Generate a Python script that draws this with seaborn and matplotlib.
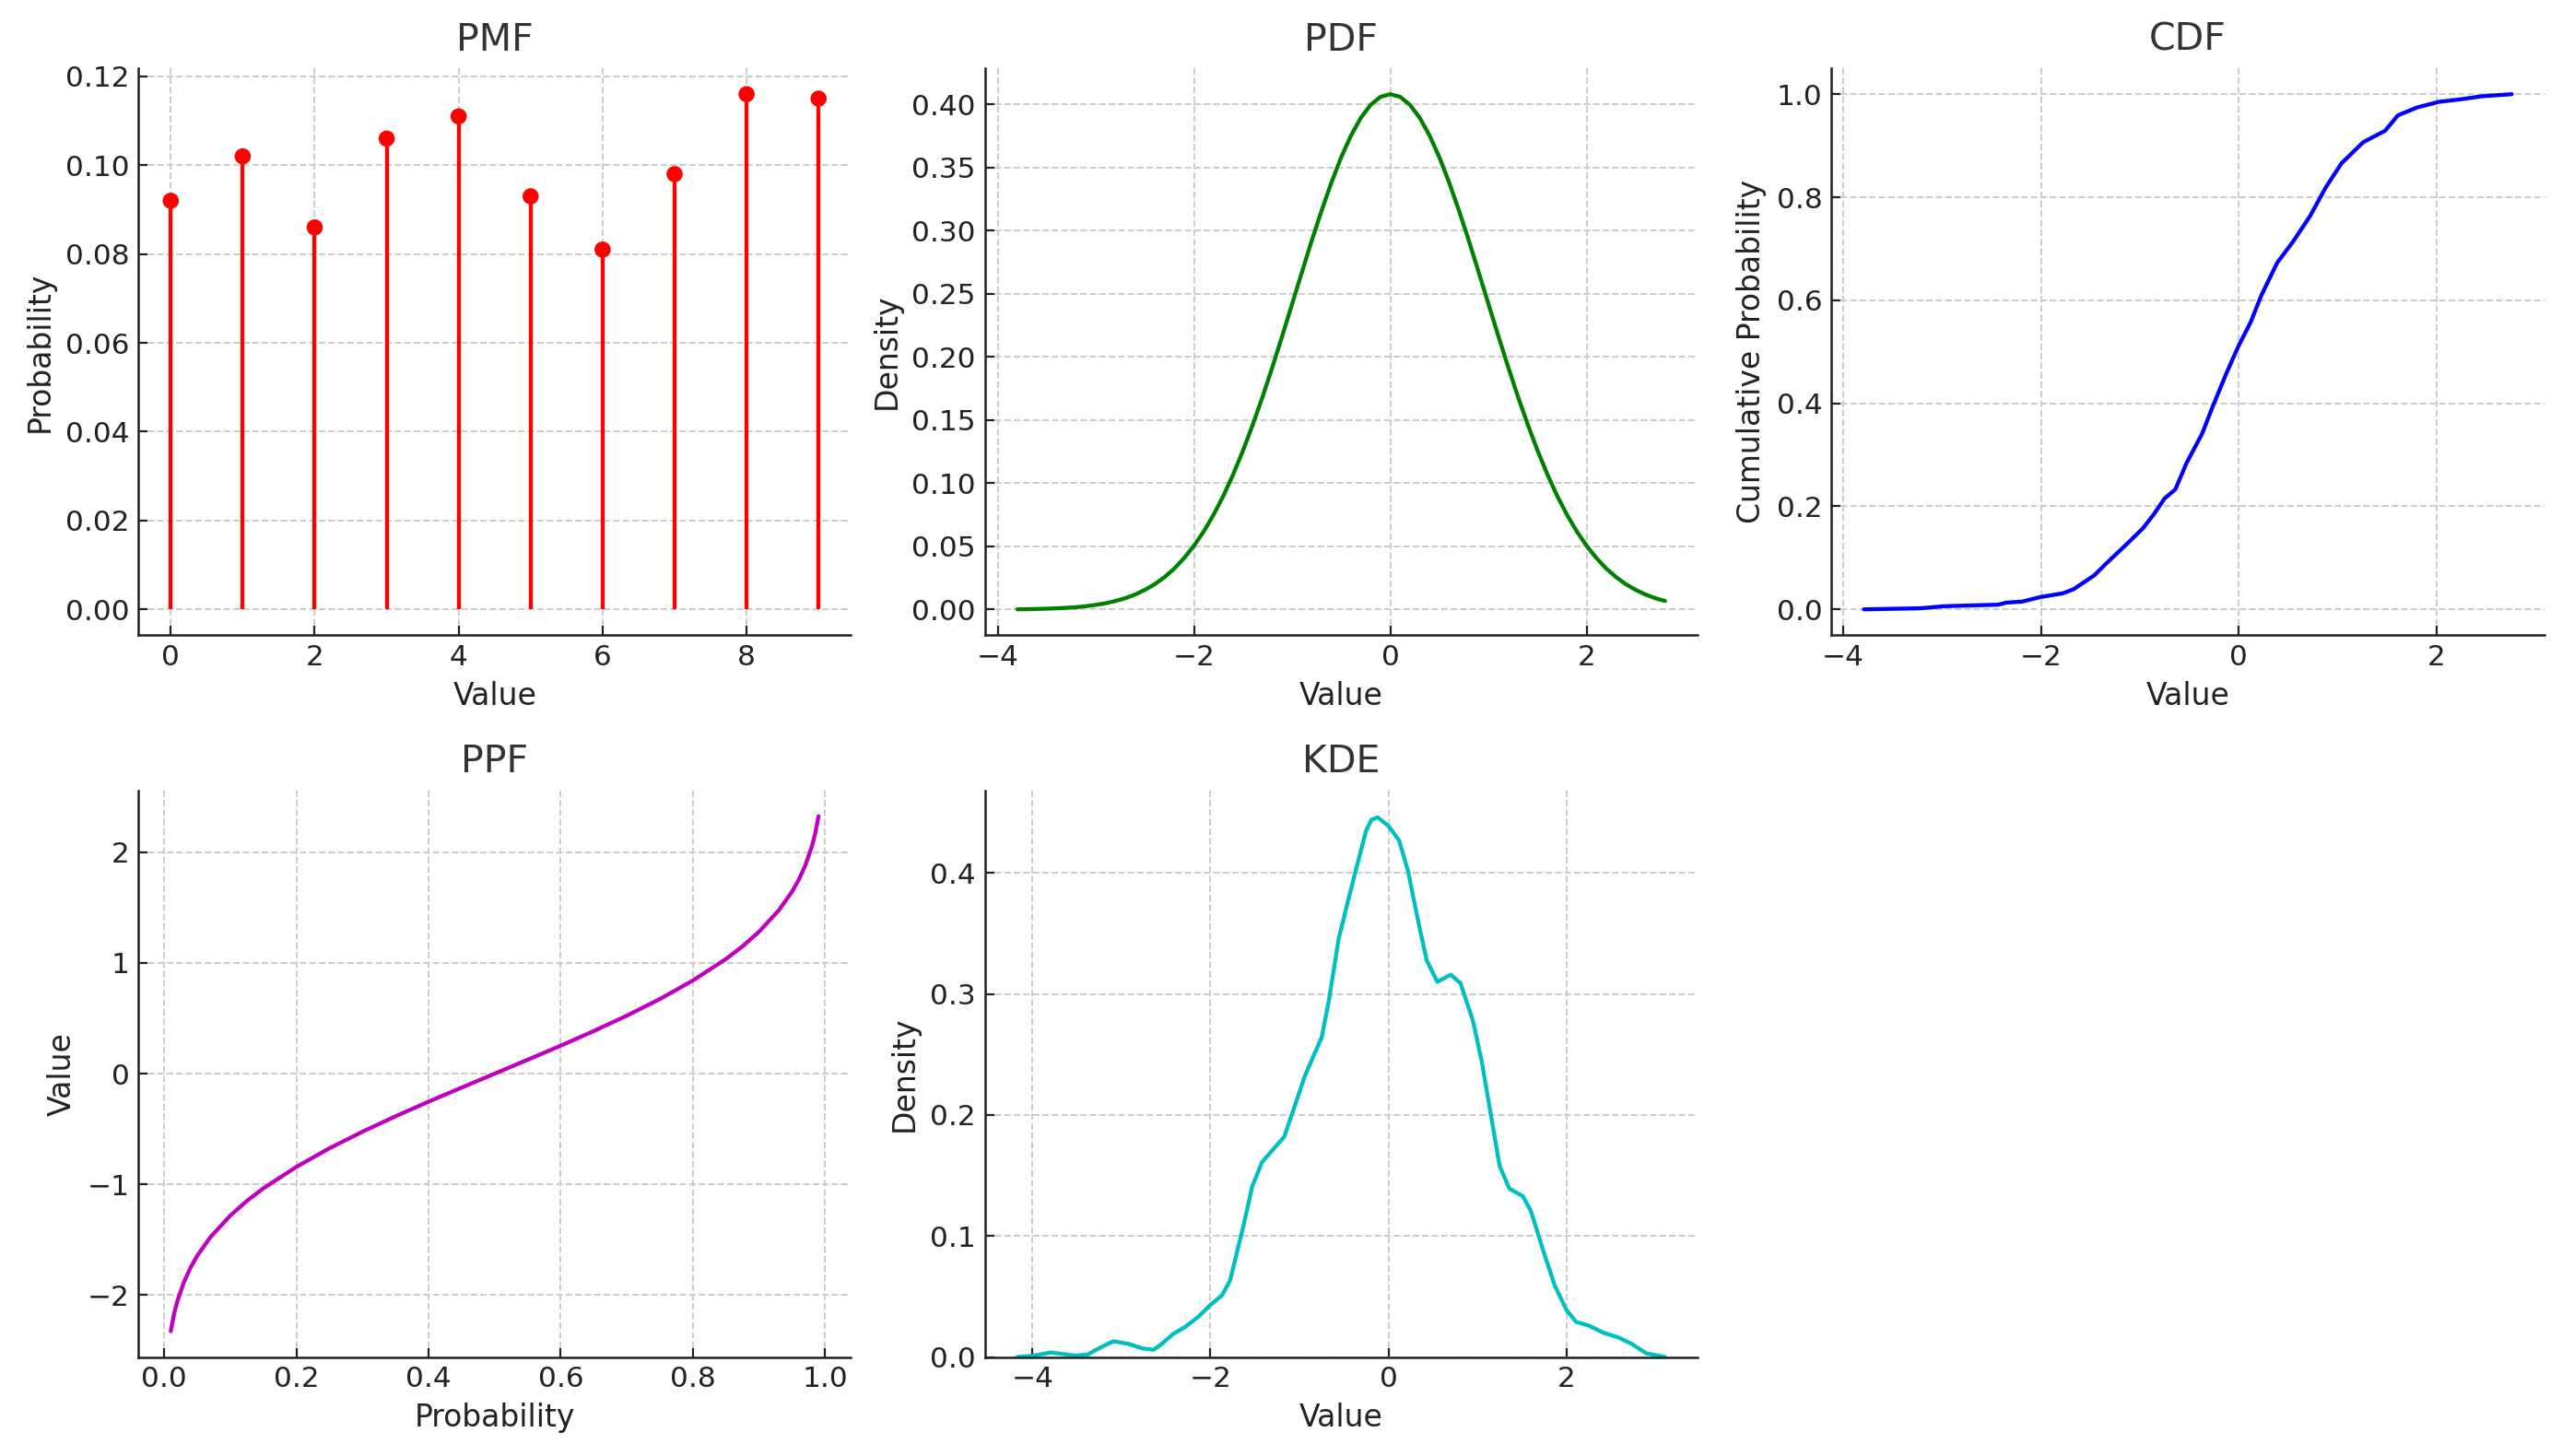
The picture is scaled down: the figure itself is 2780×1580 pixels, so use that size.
import numpy as np
import pandas as pd
import matplotlib
matplotlib.use("Agg")
import matplotlib.pyplot as plt
from matplotlib.ticker import MultipleLocator
import seaborn as sns

# ---------------- data ----------------
pmf_values = [0, 1, 2, 3, 4, 5, 6, 7, 8, 9]
pmf_probs = [0.092, 0.102, 0.086, 0.106, 0.111, 0.093, 0.081, 0.098, 0.116, 0.115]

pdf_x = [-3.8, -3.7, -3.6, -3.5, -3.4, -3.3, -3.2, -3.1, -3.0, -2.9, -2.8, -2.7, -2.6,
         -2.5, -2.4, -2.3, -2.2, -2.1, -2.0, -1.9, -1.8, -1.7, -1.6, -1.5, -1.4, -1.3,
         -1.2, -1.1, -1.0, -0.9, -0.8, -0.7, -0.6, -0.5, -0.4, -0.3, -0.2, -0.1, 0.0,
         0.1, 0.2, 0.3, 0.4, 0.5, 0.6, 0.7, 0.8, 0.9, 1.0, 1.1, 1.2, 1.3, 1.4, 1.5, 1.6,
         1.7, 1.8, 1.9, 2.0, 2.1, 2.2, 2.3, 2.4, 2.5, 2.6, 2.7, 2.8]
pdf_y = [0.0002, 0.0003, 0.0005, 0.0007, 0.0010, 0.0014, 0.0019, 0.0027, 0.0037, 0.0050,
         0.0068, 0.0090, 0.0119, 0.0156, 0.0201, 0.0257, 0.0325, 0.0408, 0.0505, 0.0619,
         0.0751, 0.0901, 0.1071, 0.1260, 0.1466, 0.1687, 0.1923, 0.2168, 0.2420, 0.2672,
         0.2921, 0.3158, 0.3380, 0.3581, 0.3753, 0.3893, 0.3996, 0.4059, 0.4080,
         0.4059, 0.3996, 0.3893, 0.3753, 0.3581, 0.3380, 0.3158, 0.2921, 0.2672, 0.2420,
         0.2168, 0.1923, 0.1687, 0.1466, 0.1260, 0.1071, 0.0901, 0.0751, 0.0619, 0.0505,
         0.0408, 0.0325, 0.0257, 0.0201, 0.0156, 0.0119, 0.0090, 0.0068]

cdf_x = [-3.79, -3.22, -2.98, -2.43, -2.35, -2.19, -2.00, -1.78, -1.67, -1.46, -1.35,
         -1.13, -0.97, -0.86, -0.75, -0.64, -0.53, -0.37, -0.26, -0.125, 0.0, 0.12, 0.23,
         0.39, 0.55, 0.72, 0.88, 1.04, 1.26, 1.48, 1.61, 1.80, 2.02, 2.24, 2.46, 2.76]
cdf_y = [0.000, 0.002, 0.006, 0.009, 0.013, 0.015, 0.024, 0.031, 0.039, 0.066, 0.087,
         0.127, 0.157, 0.184, 0.215, 0.233, 0.283, 0.341, 0.395, 0.458, 0.512, 0.557,
         0.610, 0.673, 0.714, 0.763, 0.819, 0.866, 0.907, 0.929, 0.959, 0.974, 0.985,
         0.990, 0.996, 1.000]

ppf_p = [0.01, 0.015, 0.02, 0.03, 0.04, 0.05, 0.07, 0.10, 0.125, 0.15, 0.20, 0.25, 0.30,
         0.35, 0.40, 0.45, 0.50, 0.55, 0.60, 0.65, 0.70, 0.75, 0.80, 0.85, 0.875, 0.90,
         0.93, 0.95, 0.96, 0.97, 0.98, 0.985, 0.99]
ppf_v = [-2.326, -2.170, -2.054, -1.881, -1.751, -1.645, -1.476, -1.282, -1.150, -1.036,
         -0.842, -0.674, -0.524, -0.385, -0.253, -0.126, 0.0, 0.126, 0.253, 0.385, 0.524,
         0.674, 0.842, 1.036, 1.150, 1.282, 1.476, 1.645, 1.751, 1.881, 2.054, 2.170, 2.326]

kde_x = [-4.17, -4.00, -3.79, -3.52, -3.38, -3.24, -3.09, -2.93, -2.76, -2.64, -2.56,
         -2.42, -2.28, -2.14, -2.00, -1.87, -1.78, -1.70, -1.63, -1.53, -1.42, -1.29,
         -1.17, -1.04, -0.94, -0.84, -0.75, -0.67, -0.56, -0.46, -0.36, -0.25, -0.19,
         -0.12, 0.00, 0.12, 0.22, 0.33, 0.43, 0.55, 0.70, 0.81, 0.95, 1.05, 1.15, 1.25,
         1.36, 1.51, 1.60, 1.74, 1.87, 2.00, 2.11, 2.25, 2.42, 2.59, 2.73, 2.90, 3.11]
kde_y = [0.000, 0.001, 0.0037, 0.0012, 0.002, 0.0077, 0.013, 0.011, 0.007, 0.006, 0.010,
         0.019, 0.025, 0.033, 0.043, 0.051, 0.063, 0.087, 0.108, 0.141, 0.161, 0.172,
         0.182, 0.210, 0.232, 0.249, 0.264, 0.294, 0.345, 0.375, 0.404, 0.435, 0.444,
         0.446, 0.439, 0.427, 0.402, 0.362, 0.328, 0.310, 0.316, 0.309, 0.278, 0.244,
         0.201, 0.158, 0.139, 0.133, 0.121, 0.088, 0.059, 0.039, 0.029, 0.026, 0.020,
         0.016, 0.011, 0.003, 0.000]

# ---------------- style ----------------
sns.set_style("ticks")
plt.rcParams["font.family"] = ["DejaVu Sans"]
plt.rcParams.update({
    "axes.edgecolor": "#222222",
    "axes.linewidth": 0.9,
    "xtick.color": "#222222",
    "ytick.color": "#222222",
    "xtick.labelsize": 11.2,
    "ytick.labelsize": 11.2,
    "axes.labelsize": 11.9,
    "axes.titlesize": 14.8,
    "axes.titlecolor": "#333333",
    "axes.labelcolor": "#222222",
    "xtick.direction": "in",
    "ytick.direction": "in",
    "xtick.major.size": 3.5,
    "ytick.major.size": 3.5,
    "xtick.major.width": 0.8,
    "ytick.major.width": 0.8,
})

fig, axes = plt.subplots(2, 3, figsize=(13.9, 7.9), dpi=200)
fig.subplots_adjust(left=0.054, right=0.993, top=0.953, bottom=0.068,
                    wspace=0.188, hspace=0.274)

lw = 1.55

def style(ax, title, xlabel, ylabel):
    ax.set_title(title, pad=7)
    ax.set_xlabel(xlabel)
    ax.set_ylabel(ylabel)
    ax.grid(True, linestyle="--", color="#cccccc", linewidth=0.7)
    ax.set_axisbelow(True)
    sns.despine(ax=ax)

# PMF
ax = axes[0, 0]
pmf_df = pd.DataFrame({"Value": pmf_values, "Probability": pmf_probs})
ax.vlines(pmf_df["Value"], 0, pmf_df["Probability"], color="red", linewidth=lw)
sns.scatterplot(data=pmf_df, x="Value", y="Probability", ax=ax, color="red",
                s=40, edgecolor="none", zorder=3)
style(ax, "PMF", "Value", "Probability")
ax.set_yticks([0.0, 0.02, 0.04, 0.06, 0.08, 0.10, 0.12])
ax.set_yticklabels(["0.00", "0.02", "0.04", "0.06", "0.08", "0.10", "0.12"])

# PDF
ax = axes[0, 1]
sns.lineplot(x=pdf_x, y=pdf_y, ax=ax, color="green", linewidth=lw)
style(ax, "PDF", "Value", "Density")
ax.xaxis.set_major_locator(MultipleLocator(2))

# CDF
ax = axes[0, 2]
sns.lineplot(x=cdf_x, y=cdf_y, ax=ax, color="blue", linewidth=lw, sort=False)
style(ax, "CDF", "Value", "Cumulative Probability")
ax.xaxis.set_major_locator(MultipleLocator(2))

# PPF
ax = axes[1, 0]
sns.lineplot(x=ppf_p, y=ppf_v, ax=ax, color="m", linewidth=lw)
style(ax, "PPF", "Probability", "Value")

# KDE
ax = axes[1, 1]
sns.lineplot(x=kde_x, y=kde_y, ax=ax, color="c", linewidth=lw)
style(ax, "KDE", "Value", "Density")
ax.set_ylim(bottom=0)

axes[1, 2].remove()

fig.savefig("out.png", dpi=200)
